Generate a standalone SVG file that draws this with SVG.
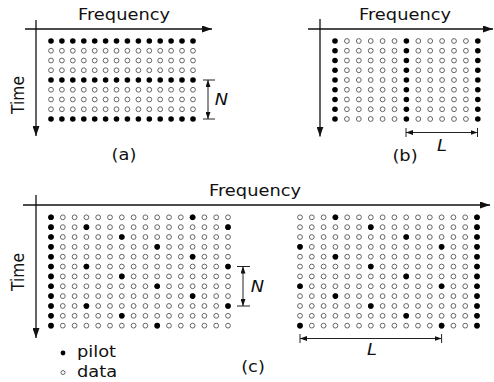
<svg xmlns="http://www.w3.org/2000/svg" width="494" height="382" viewBox="0 0 494 382">
<style>
.ax{stroke:#111;stroke-width:1.3;fill:none}
.br{stroke:#222;stroke-width:1;fill:none}
.data{fill:#fff;stroke:#555;stroke-width:0.9}
.pil{fill:#000}
text{font-family:"DejaVu Sans","Liberation Sans",sans-serif;font-size:15.5px;fill:#111}
.it{font-style:italic}
</style>
<defs>
<marker id="ah" viewBox="0 0 10 7" refX="10" refY="3.5" markerWidth="10" markerHeight="7" markerUnits="userSpaceOnUse" orient="auto"><path d="M0,0L10,3.5L0,7z" fill="#111"/></marker>
<marker id="sh" viewBox="0 0 7 5" refX="7" refY="2.5" markerWidth="7" markerHeight="5" markerUnits="userSpaceOnUse" orient="auto-start-reverse"><path d="M0,0L7,2.5L0,5z" fill="#111"/></marker>
<circle id="o" r="2.4" class="data"/>
<circle id="p" r="2.8" class="pil"/>
<g id="aOpen"><use href="#o" x="51"/><use href="#o" x="61.9"/><use href="#o" x="72.8"/><use href="#o" x="83.8"/><use href="#o" x="94.7"/><use href="#o" x="105.6"/><use href="#o" x="116.5"/><use href="#o" x="127.4"/><use href="#o" x="138.4"/><use href="#o" x="149.3"/><use href="#o" x="160.2"/><use href="#o" x="171.1"/><use href="#o" x="182"/><use href="#o" x="193"/></g>
<g id="aPilot"><use href="#p" x="51"/><use href="#p" x="61.9"/><use href="#p" x="72.8"/><use href="#p" x="83.8"/><use href="#p" x="94.7"/><use href="#p" x="105.6"/><use href="#p" x="116.5"/><use href="#p" x="127.4"/><use href="#p" x="138.4"/><use href="#p" x="149.3"/><use href="#p" x="160.2"/><use href="#p" x="171.1"/><use href="#p" x="182"/><use href="#p" x="193"/></g>
<g id="bRow"><use href="#p" x="335"/><use href="#o" x="346.9"/><use href="#o" x="358.8"/><use href="#o" x="370.7"/><use href="#o" x="382.6"/><use href="#o" x="394.5"/><use href="#p" x="406.4"/><use href="#o" x="418.3"/><use href="#o" x="430.2"/><use href="#o" x="442.1"/><use href="#o" x="454"/><use href="#o" x="465.9"/><use href="#p" x="477.8"/></g>
<g id="cOpen"><use href="#o" x="0"/><use href="#o" x="11.8"/><use href="#o" x="23.6"/><use href="#o" x="35.4"/><use href="#o" x="47.2"/><use href="#o" x="59"/><use href="#o" x="70.8"/><use href="#o" x="82.6"/><use href="#o" x="94.4"/><use href="#o" x="106.2"/><use href="#o" x="118"/><use href="#o" x="129.8"/><use href="#o" x="141.6"/><use href="#o" x="153.4"/><use href="#o" x="165.2"/><use href="#o" x="177"/></g>
</defs>
<rect width="494" height="382" fill="#fff"/>

<g id="connectors">
<line class="ax" x1="25" y1="29" x2="212" y2="29" marker-end="url(#ah)"/>
<line class="ax" x1="36" y1="20" x2="36" y2="136" marker-end="url(#ah)"/>
<line class="ax" x1="308" y1="29" x2="493" y2="29" marker-end="url(#ah)"/>
<line class="ax" x1="320" y1="19" x2="320" y2="136.5" marker-end="url(#ah)"/>
<line class="ax" x1="23" y1="205" x2="490" y2="205" marker-end="url(#ah)"/>
<line class="ax" x1="36" y1="195" x2="36" y2="338" marker-end="url(#ah)"/>
<path class="br" d="M203,80H215M203,119H215"/>
<line class="br" x1="208" y1="80" x2="208" y2="119" marker-start="url(#sh)" marker-end="url(#sh)"/>
<path class="br" d="M406,128V137M477.5,128V137"/>
<line class="br" x1="406" y1="132.5" x2="477.5" y2="132.5" marker-start="url(#sh)" marker-end="url(#sh)"/>
<path class="br" d="M237,266.5H250M237,306H250"/>
<line class="br" x1="243" y1="266.5" x2="243" y2="306" marker-start="url(#sh)" marker-end="url(#sh)"/>
<path class="br" d="M300,334V343M441.6,334V343"/>
<line class="br" x1="300" y1="338.5" x2="441.6" y2="338.5" marker-start="url(#sh)" marker-end="url(#sh)"/>
</g>

<g id="panel-a">
<use href="#aPilot" y="41"/>
<use href="#aOpen" y="50.75"/>
<use href="#aOpen" y="60.5"/>
<use href="#aOpen" y="70.25"/>
<use href="#aPilot" y="80"/>
<use href="#aOpen" y="89.75"/>
<use href="#aOpen" y="99.5"/>
<use href="#aOpen" y="109.25"/>
<use href="#aPilot" y="119"/>
</g>

<g id="panel-b">
<use href="#bRow" y="41"/>
<use href="#bRow" y="50.75"/>
<use href="#bRow" y="60.5"/>
<use href="#bRow" y="70.25"/>
<use href="#bRow" y="80"/>
<use href="#bRow" y="89.75"/>
<use href="#bRow" y="99.5"/>
<use href="#bRow" y="109.25"/>
<use href="#bRow" y="119"/>
</g>

<g id="panel-c-left">
<use href="#cOpen" x="51" y="217.3"/>
<use href="#cOpen" x="51" y="227.15"/>
<use href="#cOpen" x="51" y="237"/>
<use href="#cOpen" x="51" y="246.85"/>
<use href="#cOpen" x="51" y="256.7"/>
<use href="#cOpen" x="51" y="266.55"/>
<use href="#cOpen" x="51" y="276.4"/>
<use href="#cOpen" x="51" y="286.25"/>
<use href="#cOpen" x="51" y="296.1"/>
<use href="#cOpen" x="51" y="305.95"/>
<use href="#cOpen" x="51" y="315.8"/>
<use href="#cOpen" x="51" y="325.65"/>
<use href="#p" x="51" y="217.3"/><use href="#p" x="51" y="227.15"/><use href="#p" x="51" y="237"/><use href="#p" x="51" y="246.85"/><use href="#p" x="51" y="256.7"/><use href="#p" x="51" y="266.55"/><use href="#p" x="51" y="276.4"/><use href="#p" x="51" y="286.25"/><use href="#p" x="51" y="296.1"/><use href="#p" x="51" y="305.95"/><use href="#p" x="51" y="315.8"/><use href="#p" x="51" y="325.65"/>
<use href="#p" x="192.6" y="217.3"/>
<use href="#p" x="86.4" y="227.15"/><use href="#p" x="228" y="227.15"/>
<use href="#p" x="121.8" y="237"/>
<use href="#p" x="157.2" y="246.85"/>
<use href="#p" x="192.6" y="256.7"/>
<use href="#p" x="86.4" y="266.55"/><use href="#p" x="228" y="266.55"/>
<use href="#p" x="121.8" y="276.4"/>
<use href="#p" x="157.2" y="286.25"/>
<use href="#p" x="192.6" y="296.1"/>
<use href="#p" x="86.4" y="305.95"/><use href="#p" x="228" y="305.95"/>
<use href="#p" x="121.8" y="315.8"/>
<use href="#p" x="157.2" y="325.65"/>
</g>

<g id="panel-c-right">
<use href="#cOpen" x="300" y="217.3"/>
<use href="#cOpen" x="300" y="227.15"/>
<use href="#cOpen" x="300" y="237"/>
<use href="#cOpen" x="300" y="246.85"/>
<use href="#cOpen" x="300" y="256.7"/>
<use href="#cOpen" x="300" y="266.55"/>
<use href="#cOpen" x="300" y="276.4"/>
<use href="#cOpen" x="300" y="286.25"/>
<use href="#cOpen" x="300" y="296.1"/>
<use href="#cOpen" x="300" y="305.95"/>
<use href="#cOpen" x="300" y="315.8"/>
<use href="#cOpen" x="300" y="325.65"/>
<use href="#p" x="477" y="217.3"/><use href="#p" x="477" y="227.15"/><use href="#p" x="477" y="237"/><use href="#p" x="477" y="246.85"/><use href="#p" x="477" y="256.7"/><use href="#p" x="477" y="266.55"/><use href="#p" x="477" y="276.4"/><use href="#p" x="477" y="286.25"/><use href="#p" x="477" y="296.1"/><use href="#p" x="477" y="305.95"/><use href="#p" x="477" y="315.8"/><use href="#p" x="477" y="325.65"/>
<use href="#p" x="335.4" y="217.3"/>
<use href="#p" x="370.8" y="227.15"/>
<use href="#p" x="406.2" y="237"/>
<use href="#p" x="300" y="246.85"/><use href="#p" x="441.6" y="246.85"/>
<use href="#p" x="335.4" y="256.7"/>
<use href="#p" x="370.8" y="266.55"/>
<use href="#p" x="406.2" y="276.4"/>
<use href="#p" x="300" y="286.25"/><use href="#p" x="441.6" y="286.25"/>
<use href="#p" x="335.4" y="296.1"/>
<use href="#p" x="370.8" y="305.95"/>
<use href="#p" x="406.2" y="315.8"/>
<use href="#p" x="300" y="325.65"/><use href="#p" x="441.6" y="325.65"/>
</g>

<g id="legend">
<circle cx="63" cy="353" r="2.4" class="pil"/>
<circle cx="63" cy="372.5" r="2" class="data"/>
<text transform="translate(77,357) scale(1.15,1)">pilot</text>
<text transform="translate(77,376.5) scale(1.15,1)">data</text>
</g>

<g id="labels">
<text transform="translate(124,19.5) scale(1.15,1)" text-anchor="middle">Frequency</text>
<text transform="translate(405,19.5) scale(1.15,1)" text-anchor="middle">Frequency</text>
<text transform="translate(255,196) scale(1.15,1)" text-anchor="middle">Frequency</text>
<text transform="translate(24,95) scale(1.15,1) rotate(-90)" text-anchor="middle">Time</text>
<text transform="translate(24,272) scale(1.15,1) rotate(-90)" text-anchor="middle">Time</text>
<text transform="translate(124,160) scale(1.15,1)" text-anchor="middle">(a)</text>
<text transform="translate(405,161) scale(1.15,1)" text-anchor="middle">(b)</text>
<text transform="translate(253,372) scale(1.15,1)" text-anchor="middle">(c)</text>
<text class="it" transform="translate(221.5,105) scale(1.15,1)" text-anchor="middle">N</text>
<text class="it" transform="translate(257.5,292) scale(1.15,1)" text-anchor="middle">N</text>
<text class="it" transform="translate(442,151) scale(1.15,1)" text-anchor="middle">L</text>
<text class="it" transform="translate(372,355) scale(1.15,1)" text-anchor="middle">L</text>
</g>
</svg>
